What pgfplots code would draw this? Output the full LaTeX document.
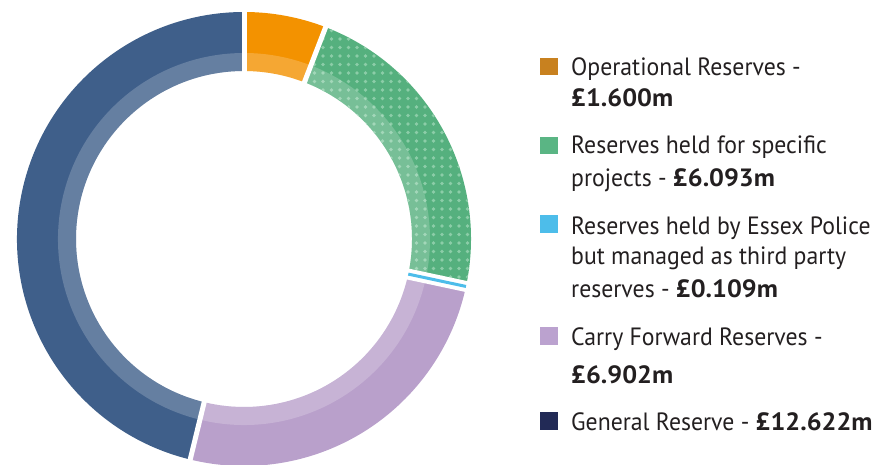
\documentclass[border=0pt]{standalone}
\usepackage{pgfplots}
\pgfplotsset{compat=1.18}
\usepackage{fontspec}
\setmainfont{PT Sans}[FakeStretch=0.95, BoldFeatures={FakeStretch=1.05}]
\usetikzlibrary{patterns.meta}

\definecolor{opor}{HTML}{F39200}
\definecolor{oplg}{HTML}{C8811F}
\definecolor{prgr}{HTML}{55B07E}
\definecolor{prdot}{HTML}{8CCDA8}
\definecolor{prlg}{HTML}{5AB584}
\definecolor{tpbl}{HTML}{4DBDEA}
\definecolor{cfli}{HTML}{B9A0CB}
\definecolor{cflg}{HTML}{BBA2CF}
\definecolor{gnbl}{HTML}{3F5F8A}
\definecolor{gnlg}{HTML}{222A56}
\definecolor{txt}{HTML}{231F20}

% reserves in GBP m, clockwise from 12 o'clock
\pgfmathsetmacro\vOp{1.600}
\pgfmathsetmacro\vPr{6.093}
\pgfmathsetmacro\vTp{0.109}
\pgfmathsetmacro\vCf{6.902}
\pgfmathsetmacro\vGn{12.622}
\pgfmathsetmacro\total{\vOp+\vPr+\vTp+\vCf+\vGn}
\pgfmathsetmacro\bA{90}
\pgfmathsetmacro\bB{\bA-360*\vOp/\total}
\pgfmathsetmacro\bC{\bB-360*\vPr/\total}
\pgfmathsetmacro\bD{\bC-360*\vTp/\total}
\pgfmathsetmacro\bE{\bD-360*\vCf/\total}
\pgfmathsetmacro\bF{\bE-360*\vGn/\total}
\pgfmathsetmacro\mT{(\bC+\bD)/2}

% ring sector: options, start angle, end angle, inner r, outer r (pt = axis units)
\newcommand\sector[5]{%
  \fill[#1] (axis cs:244,225) ++(#2:#5pt)
    arc[start angle=#2, end angle=#3, radius=#5pt]
    -- ++(#3:{#4pt-#5pt})
    arc[start angle=#3, end angle=#2, radius=#4pt] -- cycle;}
\newcommand\gap[2]{%
  \draw[white, line width=#2] (axis cs:244,225) ++(#1:160pt) -- ++(#1:75pt);}

\begin{document}
\begin{tikzpicture}
\begin{axis}[
    name=ax,
    x=1pt, y=1pt,
    xmin=0, xmax=881, ymin=0, ymax=464,
    disabledatascaling,
    hide axis,
    clip=true,
]
% ring
\sector{opor}{\bA}{\bB}{168}{227}
\sector{prgr, postaction={pattern={Dots[radius=1.8pt, distance=8.5pt]}, pattern color=prdot}}{\bB}{\bC}{168}{227}
\sector{cfli}{\bD}{\bE}{168}{227}
\sector{gnbl}{\bE}{\bF}{168}{227}
% lighter inner band
\sector{white, opacity=0.2}{\bA}{\bC}{168}{186}
\sector{white, opacity=0.2}{\bD}{\bF}{168}{186}
% separators
\gap{\bA}{5pt}
\gap{\bB}{5pt}
\gap{\bE}{5pt}
\gap{\mT}{11pt}
\draw[tpbl, line width=3pt] (axis cs:244,225) ++(\mT:168pt) -- ++(\mT:59pt);

% legend
\fill[oplg] (axis cs:540,389) rectangle (axis cs:558,406);
\fill[prlg] (axis cs:540,310) rectangle (axis cs:558,327);
\fill[tpbl] (axis cs:540,231) rectangle (axis cs:558,249);
\fill[cflg] (axis cs:540,119) rectangle (axis cs:558,137);
\fill[gnlg] (axis cs:540,34) rectangle (axis cs:558,52);
\tikzset{lg/.style={anchor=base west, inner sep=0pt, text=txt, font=\fontsize{25}{30}\selectfont}}
\node[lg] at (axis cs:571,388.3) {Operational Reserves -};
\node[lg] at (axis cs:571,357.3) {\textbf{£1.600m}};
\node[lg] at (axis cs:571,310.7) {Reserves held for specific};
\node[lg] at (axis cs:571,277.3) {projects - \textbf{£6.093m}};
\node[lg] at (axis cs:571,229.7) {Reserves held by Essex Police};
\node[lg] at (axis cs:571,199) {but managed as third party};
\node[lg] at (axis cs:571,166.3) {reserves - \textbf{£0.109m}};
\node[lg] at (axis cs:571,118.3) {Carry Forward Reserves -};
\node[lg] at (axis cs:571,80.7) {\textbf{£6.902m}};
\node[lg] at (axis cs:571,34) {General Reserve - \textbf{£12.622m}};
\end{axis}
\pgfresetboundingbox
\useasboundingbox (ax.south west) rectangle (ax.north east);
\end{tikzpicture}
\end{document}
